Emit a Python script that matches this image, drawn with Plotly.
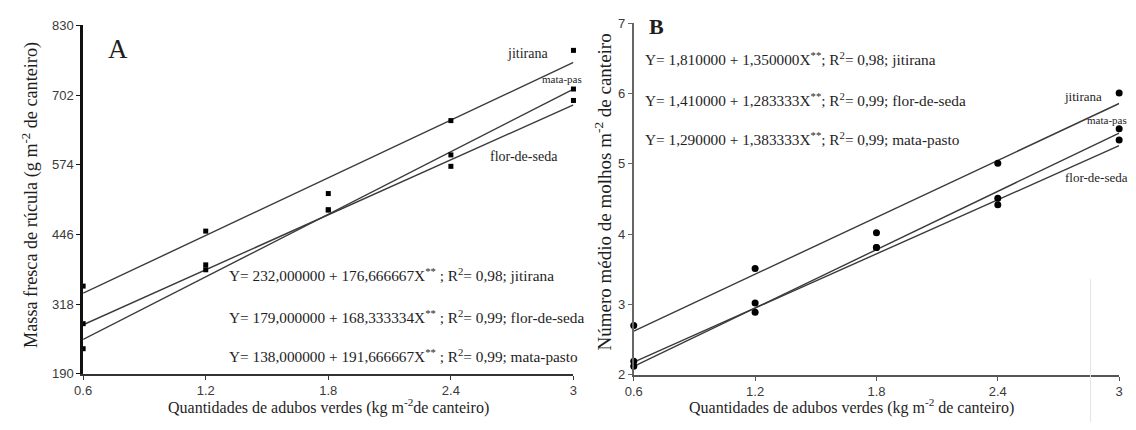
import plotly.graph_objects as go

W, H = 1136, 430

# Doses of green manure (kg m-2 of bed)
doses = [0.6, 1.2, 1.8, 2.4, 3.0]
dose_ticks = ["0.6", "1.2", "1.8", "2.4", "3"]

# Panel A: fresh mass of rocket (g m-2 of bed)
a_jitirana = [351, 452, 521, 655, 784]
a_flor = [282, 390, 491, 571, 692]
a_mata = [236, 381, 491, 592, 713]
a_fit_b0 = [232.0, 179.0, 138.0]          # jitirana, flor-de-seda, mata-pasto
a_fit_b1 = [176.666667, 168.333334, 191.666667]
a_eq_text = [
    "Y= 232,000000 + 176,666667X<sup>**</sup> ; R<sup>2</sup>= 0,98; jitirana",
    "Y= 179,000000 + 168,333334X<sup>**</sup> ; R<sup>2</sup>= 0,99; flor-de-seda",
    "Y= 138,000000 + 191,666667X<sup>**</sup> ; R<sup>2</sup>= 0,99; mata-pasto",
]
a_yticks = [190, 318, 446, 574, 702, 830]

# Panel B: mean number of bunches per m2 of bed
b_jitirana = [2.70, 3.51, 4.02, 5.01, 6.01]
b_flor = [2.19, 2.89, 3.81, 4.42, 5.34]
b_mata = [2.12, 3.02, 3.81, 4.51, 5.50]
b_fit_b0 = [1.81, 1.41, 1.29]
b_fit_b1 = [1.350000, 1.283333, 1.383333]
b_eq_text = [
    "Y= 1,810000 + 1,350000X<sup>**</sup>; R<sup>2</sup>= 0,98; jitirana",
    "Y= 1,410000 + 1,283333X<sup>**</sup>; R<sup>2</sup>= 0,99; flor-de-seda",
    "Y= 1,290000 + 1,383333X<sup>**</sup>; R<sup>2</sup>= 0,99; mata-pasto",
]
b_yticks = [2, 3, 4, 5, 6, 7]

SERIF = "Liberation Serif"
SANS = "Liberation Sans"
TXT = "#1e1e1e"


def px(x):
    return x / W


def py(y):
    return 1 - y / H


fig = go.Figure()

# regression lines + observed points
for series, b0, b1, xa, ya, sym, size in [
    ((a_jitirana, a_flor, a_mata), a_fit_b0, a_fit_b1, "x", "y", "square", 5),
    ((b_jitirana, b_flor, b_mata), b_fit_b0, b_fit_b1, "x2", "y2", "circle", 7),
]:
    for obs, c0, c1 in zip(series, b0, b1):
        xs = [doses[0], doses[-1]]
        fig.add_trace(go.Scatter(
            x=xs, y=[c0 + c1 * v for v in xs], mode="lines",
            line=dict(color="#3a3a3a", width=1.4),
            xaxis=xa, yaxis=ya, showlegend=False, hoverinfo="skip"))
        fig.add_trace(go.Scatter(
            x=doses, y=obs, mode="markers",
            marker=dict(symbol=sym, size=size, color="black"),
            xaxis=xa, yaxis=ya, showlegend=False, cliponaxis=False))

axis_common = dict(showgrid=False, zeroline=False, ticks="outside", ticklen=4,
                   tickfont=dict(family=SANS, size=13, color="#3a3a3a"))

fig.update_layout(
    width=W, height=H, margin=dict(l=0, r=0, t=0, b=0),
    paper_bgcolor="white", plot_bgcolor="white",
    xaxis=dict(domain=[px(75), px(571)], range=[0.6, 3.0], anchor="y",
               tickvals=doses, ticktext=dose_ticks,
               showline=True, linecolor="#333", linewidth=2, tickcolor="#333",
               **axis_common),
    yaxis=dict(domain=[py(380), py(19)], range=[190, 830], anchor="x",
               tickvals=a_yticks,
               showline=True, linecolor="#111", linewidth=2.5, tickcolor="#111",
               **axis_common),
    xaxis2=dict(domain=[px(632), px(1123)], range=[0.6, 3.0], anchor="y2",
                tickvals=doses, ticktext=dose_ticks,
                showline=True, linecolor="#555", linewidth=2, tickcolor="#555",
                **axis_common),
    yaxis2=dict(domain=[py(381), py(17)], range=[2, 7], anchor="x2",
                tickvals=b_yticks,
                showline=True, linecolor="#666", linewidth=2, tickcolor="#666",
                **axis_common),
)

ann = []


def text(x, y, s, size=14.5, xanchor="left", bold=False, angle=0, family=SERIF):
    ann.append(dict(x=px(x), y=py(y), xref="paper", yref="paper", text=s,
                    showarrow=False, xanchor=xanchor, yanchor="middle",
                    textangle=angle,
                    font=dict(family=family, size=size, color=TXT)))


# panel letters
text(98, 44, "A", size=27)
text(645, 20, "<b>B</b>", size=22)

# equations
for s, y in zip(a_eq_text, [277, 321, 361]):
    text(221, y, s, size=15.3)
for s, y in zip(b_eq_text, [53, 96, 136]):
    text(641, y, s, size=15.3)

# curve labels
text(502, 48, "jitirana", size=14)
text(537, 75, "mata-pas", size=11)
text(485, 155, "flor-de-seda", size=14)
text(1065, 93, "jitirana", size=13)
text(1088, 117, "mata-pas", size=11)
text(1066, 177, "flor-de-seda", size=13)

# axis titles
text(323, 414, "Quantidades de adubos verdes (kg m<sup>-2</sup>de canteiro)",
     size=16, xanchor="center")
text(852, 414, "Quantidades de adubos verdes (kg m<sup>-2</sup> de canteiro)",
     size=16, xanchor="center")
text(22, 195, "Massa fresca de rúcula (g m<sup>-2</sup> de canteiro)",
     size=18.2, xanchor="center", angle=-90)
text(601, 192, "Número médio de molhos m<sup>-2</sup> de canteiro",
     size=19, xanchor="center", angle=-90)

fig.update_layout(annotations=ann)

# faint vertical rule near the right edge of panel B
fig.add_shape(type="line", xref="paper", yref="paper",
              x0=px(1094), x1=px(1094), y0=py(282), y1=py(430),
              line=dict(color="#e4e4e4", width=1))

fig.write_html("out.html")
